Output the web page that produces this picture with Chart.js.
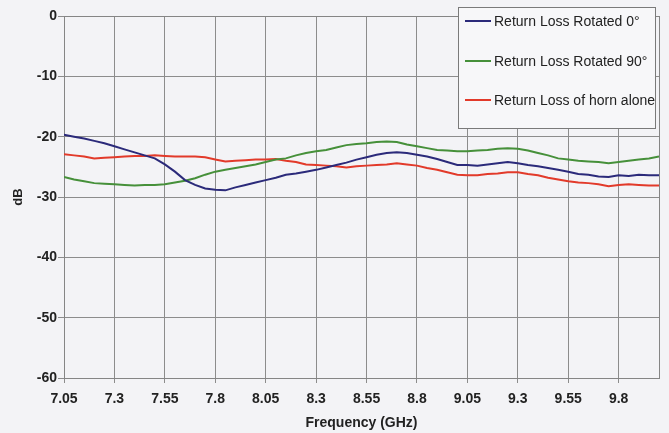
<!DOCTYPE html>
<html>
<head>
<meta charset="utf-8">
<script src="https://cdn.jsdelivr.net/npm/chart.js@4/dist/chart.umd.min.js"></script>
<style>
  html, body { margin: 0; padding: 0; background: #f3f3f6; }
  #wrap { width: 669px; height: 433px; }
</style>
</head>
<body>
<div id="wrap"><canvas id="chart" width="669" height="433"></canvas></div>
<script>
// frequency points in GHz, 0.05 step
var freq = [7.05, 7.1, 7.15, 7.2, 7.25, 7.3, 7.35, 7.4, 7.45, 7.5,
            7.55, 7.6, 7.65, 7.7, 7.75, 7.8, 7.85, 7.9, 7.95, 8.0,
            8.05, 8.1, 8.15, 8.2, 8.25, 8.3, 8.35, 8.4, 8.45, 8.5,
            8.55, 8.6, 8.65, 8.7, 8.75, 8.8, 8.85, 8.9, 8.95, 9.0,
            9.05, 9.1, 9.15, 9.2, 9.25, 9.3, 9.35, 9.4, 9.45, 9.5,
            9.55, 9.6, 9.65, 9.7, 9.75, 9.8, 9.85, 9.9, 9.95, 10.0];

var rotated0 = [-19.7, -20.0, -20.3, -20.7, -21.1, -21.6, -22.1, -22.6, -23.1, -23.6,
                -24.6, -25.8, -27.2, -28.0, -28.6, -28.8, -28.9, -28.4, -28.0, -27.6,
                -27.2, -26.8, -26.3, -26.1, -25.8, -25.5, -25.1, -24.7, -24.3, -23.8,
                -23.4, -23.0, -22.7, -22.6, -22.7, -23.0, -23.3, -23.7, -24.2, -24.7,
                -24.7, -24.8, -24.6, -24.4, -24.2, -24.4, -24.7, -24.9, -25.2, -25.5,
                -25.8, -26.2, -26.3, -26.6, -26.7, -26.4, -26.5, -26.3, -26.4, -26.4];

var rotated90 = [-26.7, -27.1, -27.4, -27.7, -27.8, -27.9, -28.0, -28.1, -28.0, -28.0,
                 -27.9, -27.6, -27.3, -26.9, -26.3, -25.8, -25.5, -25.2, -24.9, -24.6,
                 -24.2, -23.8, -23.6, -23.1, -22.7, -22.4, -22.2, -21.8, -21.4, -21.2,
                 -21.1, -20.9, -20.8, -20.9, -21.3, -21.6, -21.9, -22.2, -22.3, -22.4,
                 -22.4, -22.3, -22.2, -22.0, -21.9, -22.0, -22.3, -22.7, -23.1, -23.6,
                 -23.8, -24.0, -24.1, -24.2, -24.4, -24.2, -24.0, -23.8, -23.6, -23.3];

var hornAlone = [-22.9, -23.1, -23.3, -23.6, -23.5, -23.4, -23.3, -23.2, -23.2, -23.1,
                 -23.2, -23.3, -23.3, -23.3, -23.4, -23.8, -24.1, -24.0, -23.9, -23.8,
                 -23.8, -23.7, -24.0, -24.2, -24.6, -24.7, -24.8, -24.9, -25.1, -24.9,
                 -24.8, -24.7, -24.6, -24.4, -24.6, -24.8, -25.2, -25.5, -25.9, -26.3,
                 -26.4, -26.4, -26.2, -26.1, -25.9, -25.9, -26.2, -26.4, -26.8, -27.1,
                 -27.4, -27.6, -27.7, -27.9, -28.2, -28.0, -27.9, -28.0, -28.1, -28.1];

var seriesNames = ['Return Loss Rotated 0°', 'Return Loss Rotated 90°', 'Return Loss of horn alone'];
var seriesColors = ['#2b2a7a', '#46903a', '#e23a2a'];

var xTicks = [7.05, 7.3, 7.55, 7.8, 8.05, 8.3, 8.55, 8.8, 9.05, 9.3, 9.55, 9.8];
var xTickLabels = ['7.05', '7.3', '7.55', '7.8', '8.05', '8.3', '8.55', '8.8', '9.05', '9.3', '9.55', '9.8'];

function toPoints(values){
    var pts = [];
    for(var i = 0; i < freq.length; i++){
        pts.push({x: freq[i], y: values[i]});
    }
    return pts;
}

function makeDataset(idx, values){
    return {
        label: seriesNames[idx],
        data: toPoints(values),
        borderColor: seriesColors[idx],
        backgroundColor: seriesColors[idx],
        borderWidth: 2,
        pointRadius: 0,
        tension: 0,
        fill: false
    };
}

// page background + frame round the plot
var paperPlugin = {
    id: 'paper',
    beforeDraw: function(chart){
        var ctx = chart.ctx;
        ctx.save();
        ctx.fillStyle = '#f3f3f6';
        ctx.fillRect(0, 0, chart.width, chart.height);
        ctx.restore();
    },
    beforeDatasetsDraw: function(chart){
        var a = chart.chartArea;
        var ctx = chart.ctx;
        ctx.save();
        ctx.strokeStyle = '#858585';
        ctx.lineWidth = 1;
        ctx.strokeRect(a.left + 0.5, a.top + 0.5, a.right - a.left, a.bottom - a.top);
        ctx.restore();
    }
};

// boxed legend sitting over the top right of the plot
var boxLegend = {
    id: 'boxLegend',
    afterDraw: function(chart){
        var ctx = chart.ctx;
        var x = 458, y = 7, w = 197, h = 121;
        ctx.save();
        ctx.fillStyle = '#f7f7f9';
        ctx.fillRect(x, y, w, h);
        ctx.strokeStyle = '#7a7a7a';
        ctx.lineWidth = 1;
        ctx.strokeRect(x + 0.5, y + 0.5, w, h);
        ctx.font = '14px "Liberation Sans", Arial, sans-serif';
        ctx.textBaseline = 'middle';
        ctx.fillStyle = '#222';
        var rows = [21, 61, 100];
        chart.data.datasets.forEach(function(ds, i){
            ctx.strokeStyle = ds.borderColor;
            ctx.lineWidth = 2;
            ctx.beginPath();
            ctx.moveTo(465, rows[i]);
            ctx.lineTo(491, rows[i]);
            ctx.stroke();
            ctx.fillText(ds.label, 494, rows[i] + 1);
        });
        ctx.restore();
    }
};

var ctx = document.getElementById('chart').getContext('2d');
var chart = new Chart(ctx, {
    type: 'line',
    data: {
        datasets: [
            makeDataset(0, rotated0),
            makeDataset(1, rotated90),
            makeDataset(2, hornAlone)
        ]
    },
    plugins: [paperPlugin, boxLegend],
    options: {
        responsive: false,
        animation: false,
        layout: { padding: { top: 16, right: 10, left: 11, bottom: 0 } },
        plugins: {
            legend: { display: false },
            tooltip: { enabled: false }
        },
        scales: {
            x: {
                type: 'linear',
                min: 7.05,
                max: 10.0,
                afterBuildTicks: function(scale){
                    scale.ticks = xTicks.map(function(v){ return {value: v}; });
                },
                afterFit: function(scale){ scale.height = 55; },
                ticks: {
                    autoSkip: false,
                    maxRotation: 0,
                    padding: 8,
                    color: '#222',
                    font: { family: '"Liberation Sans", Arial, sans-serif', size: 14, weight: 'bold' },
                    callback: function(value){
                        var i = xTicks.indexOf(value);
                        return i >= 0 ? xTickLabels[i] : '';
                    }
                },
                grid: { color: '#8c8c8c', lineWidth: 1, tickLength: 5 },
                border: { color: '#777', width: 1 },
                title: {
                    display: true,
                    text: 'Frequency (GHz)',
                    color: '#222',
                    padding: { top: 2, bottom: 1 },
                    font: { family: '"Liberation Sans", Arial, sans-serif', size: 14, weight: 'bold' }
                }
            },
            y: {
                min: -60,
                max: 0,
                afterFit: function(scale){ scale.width = 53; },
                ticks: {
                    stepSize: 10,
                    padding: 1,
                    color: '#222',
                    font: { family: '"Liberation Sans", Arial, sans-serif', size: 14, weight: 'bold' }
                },
                grid: { color: '#8c8c8c', lineWidth: 1, tickLength: 6 },
                border: { color: '#777', width: 1 },
                title: {
                    display: true,
                    text: 'dB',
                    color: '#222',
                    padding: { top: 0, bottom: 2 },
                    font: { family: '"Liberation Sans", Arial, sans-serif', size: 13, weight: 'bold' }
                }
            }
        }
    }
});
</script>
</body>
</html>
